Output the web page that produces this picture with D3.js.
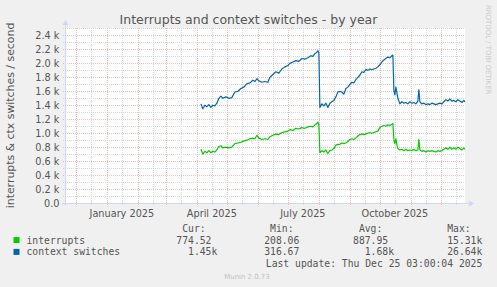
<!DOCTYPE html>
<html>
<head>
<meta charset="utf-8">
<script src="https://cdn.jsdelivr.net/npm/d3@7/dist/d3.min.js"></script>
<style>
body { margin: 0; background: #f0f0f0; }
svg { display: block; }
text { font-family: "DejaVu Sans", sans-serif; fill: #555; }
.mono { font-family: "DejaVu Sans Mono", monospace; white-space: pre; }
</style>
</head>
<body>
<script>
// daily samples, values in thousands per second
const dates = [
  "2025-04-05","2025-04-07","2025-04-09","2025-04-11","2025-04-13","2025-04-15","2025-04-17","2025-04-19","2025-04-21","2025-04-23",
  "2025-04-25","2025-04-27","2025-04-30","2025-05-03","2025-05-06","2025-05-09","2025-05-12","2025-05-15","2025-05-18","2025-05-21",
  "2025-05-24","2025-05-27","2025-05-29","2025-05-31","2025-06-02","2025-06-05","2025-06-08","2025-06-11","2025-06-13","2025-06-16",
  "2025-06-19","2025-06-22","2025-06-25","2025-06-28","2025-07-01","2025-07-03","2025-07-06","2025-07-09","2025-07-12","2025-07-15",
  "2025-07-18","2025-07-21","2025-07-24","2025-07-26","2025-07-28","2025-07-30","2025-07-31","2025-08-01","2025-08-02","2025-08-04",
  "2025-08-06","2025-08-08","2025-08-10","2025-08-12","2025-08-14","2025-08-16","2025-08-18","2025-08-20","2025-08-22","2025-08-24",
  "2025-08-26","2025-08-28","2025-08-30","2025-09-01","2025-09-03","2025-09-05","2025-09-07","2025-09-09","2025-09-11","2025-09-13",
  "2025-09-15","2025-09-17","2025-09-19","2025-09-21","2025-09-23","2025-09-25","2025-09-27","2025-09-29","2025-10-01","2025-10-03",
  "2025-10-05","2025-10-07","2025-10-09","2025-10-11","2025-10-13","2025-10-14","2025-10-15","2025-10-16","2025-10-17","2025-10-18",
  "2025-10-19","2025-10-21","2025-10-23","2025-10-25","2025-10-27","2025-10-29","2025-10-31","2025-11-02","2025-11-04","2025-11-06",
  "2025-11-08","2025-11-09","2025-11-10","2025-11-12","2025-11-14","2025-11-16","2025-11-18","2025-11-20","2025-11-22","2025-11-24",
  "2025-11-26","2025-11-28","2025-11-30","2025-12-02","2025-12-04","2025-12-06","2025-12-08","2025-12-10","2025-12-12","2025-12-14",
  "2025-12-16","2025-12-18","2025-12-20","2025-12-22","2025-12-24","2025-12-25"
];
const ctxSwitches = [
  1.42,1.35,1.40,1.38,1.41,1.37,1.40,1.39,1.43,1.50,
  1.53,1.50,1.52,1.50,1.51,1.59,1.60,1.64,1.66,1.71,
  1.72,1.76,1.74,1.78,1.75,1.73,1.74,1.73,1.80,1.84,
  1.88,1.86,1.92,1.95,1.97,2.00,2.02,2.04,2.03,2.07,
  2.06,2.08,2.11,2.10,2.14,2.16,2.18,2.15,1.37,1.42,
  1.39,1.43,1.37,1.43,1.45,1.47,1.52,1.59,1.60,1.59,
  1.56,1.64,1.66,1.70,1.73,1.72,1.77,1.80,1.83,1.88,
  1.87,1.91,1.90,1.92,1.91,1.92,1.93,1.95,1.98,2.02,
  2.05,2.07,2.09,2.08,2.11,2.12,1.61,1.55,1.66,1.58,
  1.50,1.42,1.45,1.43,1.44,1.42,1.45,1.43,1.44,1.42,
  1.46,1.62,1.45,1.42,1.43,1.41,1.42,1.41,1.43,1.42,
  1.41,1.42,1.43,1.42,1.45,1.48,1.46,1.49,1.46,1.47,
  1.45,1.48,1.46,1.44,1.47,1.45
];
const interrupts = [
  0.77,0.70,0.74,0.72,0.75,0.72,0.74,0.73,0.76,0.81,
  0.82,0.79,0.80,0.79,0.80,0.85,0.86,0.87,0.89,0.90,
  0.92,0.93,0.92,0.97,0.93,0.91,0.92,0.91,0.95,0.97,
  0.99,0.98,1.01,1.02,1.03,1.05,1.04,1.07,1.06,1.08,
  1.07,1.09,1.10,1.09,1.12,1.14,1.16,1.13,0.72,0.75,
  0.73,0.76,0.71,0.75,0.76,0.78,0.83,0.84,0.84,0.86,
  0.85,0.86,0.88,0.91,0.92,0.91,0.93,0.96,0.98,0.99,
  0.98,0.99,1.00,1.01,1.00,1.01,1.02,1.03,1.08,1.10,
  1.11,1.10,1.12,1.11,1.13,1.14,0.91,0.85,0.92,0.83,
  0.78,0.76,0.77,0.75,0.77,0.75,0.76,0.75,0.77,0.75,
  0.76,0.91,0.76,0.74,0.75,0.73,0.75,0.74,0.75,0.74,
  0.73,0.75,0.74,0.75,0.77,0.79,0.77,0.80,0.77,0.79,
  0.77,0.80,0.78,0.76,0.79,0.77
];

const yTicks = [0, 0.2, 0.4, 0.6, 0.8, 1.0, 1.2, 1.4, 1.6, 1.8, 2.0, 2.2, 2.4];
const yMinor = [0.1, 0.3, 0.5, 0.7, 0.9, 1.1, 1.3, 1.5, 1.7, 1.9, 2.1, 2.3, 2.5];
const xLabels = ["2025-01-01", "2025-04-01", "2025-07-01", "2025-10-01"];

const seriesNames = ["interrupts", "context switches"];
const seriesColors = ["#00cc00", "#0066b3"];
const legendHeads = ["Cur:", "Min:", "Avg:", "Max:"];
const statCur = [774.52, 1450];
const statMin = [208.06, 316.67];
const statAvg = [887.95, 1680];
const statMax = [15310, 26640];
const lastUpdate = "Last update: Thu Dec 25 03:00:04 2025";

const W = 497, H = 287;
const parse = d3.utcParse("%Y-%m-%d");
const start = new Date(Date.UTC(2024, 10, 20, 3));
const end = new Date(Date.UTC(2025, 11, 25, 3));

const x = d3.scaleUtc().domain([start, end]).range([65, 465]);
const y = d3.scaleLinear().domain([0, 2.507]).range([203, 28]);

const svg = d3.select('body').append('svg')
  .attr('width', W).attr('height', H);

svg.append('rect').attr('width', W).attr('height', H).attr('fill', '#f0f0f0');
svg.append('rect')
  .attr('x', x.range()[0]).attr('y', y.range()[1])
  .attr('width', x.range()[1] - x.range()[0])
  .attr('height', y.range()[0] - y.range()[1])
  .attr('fill', '#fff');

const grid = svg.append('g').attr('stroke-width', 1).attr('stroke-dasharray', '1,1');
const px = v => Math.round(v) + 0.5;
const minorCol = '#d6d6d6', majorCol = '#ecbcbc';

// minor vertical grid, mid month
const midMonths = d3.utcMonths(start, end).map(d => d3.utcDay.offset(d, 15));
grid.append('g').selectAll('line').data(midMonths).join('line')
  .attr('x1', d => px(x(d))).attr('x2', d => px(x(d)))
  .attr('y1', y.range()[1]).attr('y2', y.range()[0] + 2)
  .attr('stroke', minorCol);

grid.append('g').selectAll('line').data(yMinor).join('line')
  .attr('x1', 63).attr('x2', 465)
  .attr('y1', d => px(y(d))).attr('y2', d => px(y(d)))
  .attr('stroke', minorCol);

const months = d3.utcMonths(start, end);
grid.append('g').selectAll('line').data(months).join('line')
  .attr('x1', d => px(x(d))).attr('x2', d => px(x(d)))
  .attr('y1', y.range()[1]).attr('y2', y.range()[0] + 2)
  .attr('stroke', majorCol);

grid.append('g').selectAll('line').data(yTicks.slice(1)).join('line')
  .attr('x1', 63).attr('x2', 465)
  .attr('y1', d => px(y(d))).attr('y2', d => px(y(d)))
  .attr('stroke', majorCol);

// axes with arrows
const axisCol = '#cfd6f8';
svg.append('line').attr('x1', 62).attr('x2', 470).attr('y1', 203.5).attr('y2', 203.5)
  .attr('stroke', axisCol);
svg.append('line').attr('x1', 65.5).attr('x2', 65.5).attr('y1', 206).attr('y2', 24)
  .attr('stroke', axisCol);
svg.append('path').attr('d', 'M469,200.5 L474,203.5 L469,206.5 Z').attr('fill', axisCol);
svg.append('path').attr('d', 'M62.5,25 L65.5,20 L68.5,25 Z').attr('fill', axisCol);

svg.append('g').selectAll('text').data(yTicks).join('text')
  .attr('x', 59.5).attr('y', d => y(d) + 3.5)
  .attr('text-anchor', 'end').attr('font-size', 9.72)
  .text(d => d === 0 ? '0.0' : d3.format('.1f')(d) + ' k');

svg.append('g').selectAll('text').data(xLabels.map(parse)).join('text')
  .attr('x', d => x(d3.utcDay.offset(d, 15)))
  .attr('y', 216.5)
  .attr('text-anchor', 'middle').attr('font-size', 9.72)
  .text(d => d3.utcFormat('%B %Y')(d));

// series
const line = d3.line().x((d, i) => x(parse(dates[i]))).y(d => y(d));
[interrupts, ctxSwitches].forEach((s, k) => {
  svg.append('path').datum(s)
    .attr('d', line)
    .attr('fill', 'none')
    .attr('stroke', seriesColors[k])
    .attr('stroke-width', 1.2)
    .attr('stroke-linejoin', 'round');
});

svg.append('text').attr('x', W / 2).attr('y', 24)
  .attr('text-anchor', 'middle').attr('font-size', 12.5)
  .text('Interrupts and context switches - by year');

svg.append('text').attr('transform', 'translate(14,115.5) rotate(-90)')
  .attr('text-anchor', 'middle').attr('font-size', 10.9)
  .text('interrupts & ctx switches / second');

svg.append('text').attr('transform', 'translate(485.5,5) rotate(90)')
  .attr('font-size', 6.94).style('fill', '#c8c8c8')
  .text('RRDTOOL / TOBI OETIKER');

// legend
const cw = 9.72 * 0.602;
const colEdge = [217.3, 305.2, 394, 482.3];
const fmt = v => v >= 1000 ? (v / 1000).toFixed(2) + 'k' : v.toFixed(2) + ' ';
const leg = svg.append('g').attr('font-size', 9.72);

leg.selectAll('.head').data(legendHeads).join('text')
  .attr('class', 'mono')
  .attr('x', (d, i) => colEdge[i] - 2 * cw).attr('y', 232)
  .attr('text-anchor', 'end').text(d => d);

const rowY = [243.6, 255.4];
seriesNames.forEach((name, k) => {
  leg.append('rect').attr('x', 13.5).attr('y', rowY[k] - 6.5)
    .attr('width', 6).attr('height', 6).attr('fill', seriesColors[k]);
  leg.append('text').attr('class', 'mono').attr('x', 26.5).attr('y', rowY[k]).text(name);
  [statCur, statMin, statAvg, statMax].forEach((st, c) => {
    leg.append('text').attr('class', 'mono')
      .attr('x', colEdge[c]).attr('y', rowY[k])
      .attr('text-anchor', 'end').text(fmt(st[k]));
  });
});

leg.append('text').attr('class', 'mono')
  .attr('x', 482.3).attr('y', 267.2).attr('text-anchor', 'end')
  .text(lastUpdate);

svg.append('text').attr('x', 247).attr('y', 279)
  .attr('text-anchor', 'middle').attr('font-size', 6.94).style('fill', '#c0c0c0')
  .text('Munin 2.0.73');
</script>
</body>
</html>
